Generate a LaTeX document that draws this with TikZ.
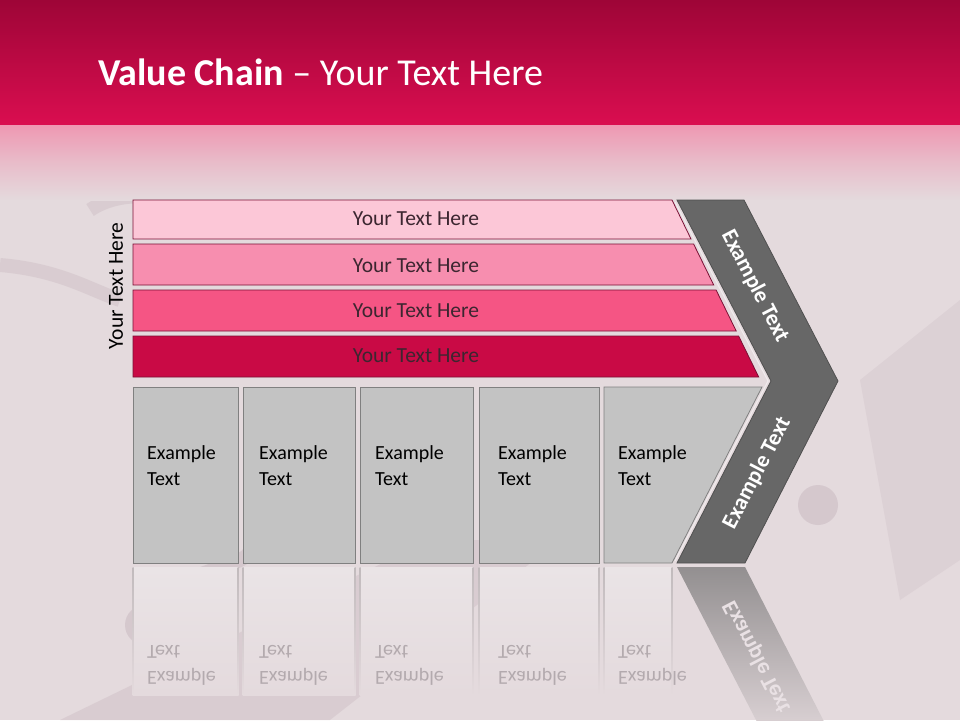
\documentclass[tikz,border=0pt]{standalone}
\usepackage{fontspec}
\setmainfont{Carlito}
\usetikzlibrary{calc}
\definecolor{hdtop}{HTML}{9E0537}
\definecolor{hdbot}{HTML}{DA0E50}
\definecolor{fadepink}{HTML}{EE98B2}
\definecolor{bg}{HTML}{E4DADD}
\definecolor{bgdark}{HTML}{D2C4CA}
\definecolor{barA}{HTML}{FCC7D7}
\definecolor{barB}{HTML}{F78EAF}
\definecolor{barC}{HTML}{F55584}
\definecolor{barD}{HTML}{C90A45}
\definecolor{barline}{HTML}{7A1035}
\definecolor{bartext}{HTML}{3C2630}
\definecolor{chev}{HTML}{676767}
\definecolor{chevline}{HTML}{505050}
\definecolor{boxfill}{HTML}{C3C3C3}
\definecolor{boxline}{HTML}{808080}
\definecolor{refltext}{HTML}{B3AAAE}
\definecolor{reflbox}{HTML}{EAE4E6}
\newcommand{\extxt}{\begin{tabular}{@{}l@{}}Example\\Text\end{tabular}}
\begin{document}
\begin{tikzpicture}[x=1pt,y=-1pt,
  barshape/.style={draw=barline, line width=0.8pt},
  bartxt/.style={text=bartext, font=\fontsize{21.5}{24}\selectfont, inner sep=0},
  boxshape/.style={fill=boxfill, draw=boxline, line width=0.8pt},
  boxtxt/.style={anchor=west, inner sep=0, font=\fontsize{20}{26}\selectfont},
  refltxt/.style={anchor=west, inner sep=0, text=refltext, font=\fontsize{20}{26}\selectfont},
  chevtxt/.style={text=white, font=\bfseries\fontsize{22.5}{24}\selectfont, inner sep=0}]
\useasboundingbox (0,0) rectangle (960,720);
% background
\fill[bg] (0,0) rectangle (960,720);
\fill[bgdark, opacity=0.6] (60,720) -- (430,540) -- (560,540) -- (330,720) -- cycle;
\fill[bgdark, opacity=0.4] (860,380) -- (960,300) -- (960,560) -- (900,600) -- cycle;
\fill[bgdark, opacity=0.8] (145,625) circle[radius=20];
\fill[bgdark, opacity=0.8] (818,505) circle[radius=20];
\draw[bgdark, line width=14pt, opacity=0.8] (160,600) .. controls (200,560) and (260,570) .. (250,540);
\draw[bgdark, line width=14pt, opacity=0.6] (90,210) .. controls (120,190) and (160,195) .. (190,205);
\draw[bgdark, line width=14pt, opacity=0.6] (0,265) .. controls (60,270) and (90,290) .. (120,300);
% header
\shade[top color=hdtop, bottom color=hdbot] (0,0) rectangle (960,125);
\shade[top color=fadepink, bottom color=bg, middle color=bg!55!fadepink] (0,125) rectangle (960,200);
\node[anchor=base west, text=white, inner sep=0, font=\fontsize{38}{42}\selectfont] (title) at (98,85) {\textbf{Value Chain} – Your Text Here};
% left label
\node[rotate=90, inner sep=0, font=\fontsize{21.5}{24}\selectfont] (side) at (116,286) {Your Text Here};
% bars
\fill[barA, barshape] (133,200) -- (672,200) -- (691,239) -- (133,239) -- cycle;
\fill[barB, barshape] (133,244) -- (693.6,244) -- (713.7,285) -- (133,285) -- cycle;
\fill[barC, barshape] (133,290) -- (716.1,290) -- (736.2,331) -- (133,331) -- cycle;
\fill[barD, barshape] (133,336) -- (738.6,336) -- (758.7,377) -- (133,377) -- cycle;
\node[bartxt] (t1) at (416,219) {Your Text Here};
\node[bartxt] (t2) at (416,266) {Your Text Here};
\node[bartxt] (t3) at (416,311) {Your Text Here};
\node[bartxt] (t4) at (416,356) {Your Text Here};
% chevron
\fill[chev, draw=chevline, line width=0.8pt] (677,200) -- (744,200) -- (838,381) -- (745,563) -- (677,563) -- (771,381) -- cycle;
\draw[white, opacity=0.5, line width=1pt] (675,202) -- (768,381) -- (675,561);
\node[chevtxt, rotate=-62.6] (c1) at (755,286) {Example Text};
\node[chevtxt, rotate=62.6] (c2) at (757,473) {Example Text};
% reflection of chevron arm
\shade[top color=chev!65!bg, bottom color=bg] (677,567) -- (745,567) -- (838,749) -- (771,749) -- cycle;
\node[text=bg!80!white, font=\bfseries\fontsize{22.5}{24}\selectfont, inner sep=0, rotate=-62.6] (c2r) at (757,657) {\scalebox{1}[-1]{Example Text}};
% boxes
\path[boxshape] (133,387) rectangle (238,563);
\path[boxshape] (243,387) rectangle (355,563);
\path[boxshape] (360,387) rectangle (473,563);
\path[boxshape] (479,387) rectangle (599,563);
\path[boxshape] (604,387) -- (762,387) -- (672,563) -- (604,563) -- cycle;
\node[boxtxt] (b1) at (147,466.8) {\extxt};
\node[boxtxt] (b2) at (259,466.8) {\extxt};
\node[boxtxt] (b3) at (375,466.8) {\extxt};
\node[boxtxt] (b4) at (498,466.8) {\extxt};
\node[boxtxt] (b5) at (618,466.8) {\extxt};
% reflections of boxes
\foreach \a/\b in {133/238, 243/355, 360/473, 479/599, 604/672} {
  \shade[top color=reflbox, bottom color=bg] (\a,567) rectangle (\b,695);
  \shade[top color=boxline!35!bg, bottom color=bg] (\a-0.5,567) rectangle (\a+0.5,695);
  \shade[top color=boxline!35!bg, bottom color=bg] (\b-0.5,567) rectangle (\b+0.5,695);
}
\node[refltxt] (r1) at (147,663.2) {\scalebox{1}[-1]{\extxt}};
\node[refltxt] (r2) at (259,663.2) {\scalebox{1}[-1]{\extxt}};
\node[refltxt] (r3) at (375,663.2) {\scalebox{1}[-1]{\extxt}};
\node[refltxt] (r4) at (498,663.2) {\scalebox{1}[-1]{\extxt}};
\node[refltxt] (r5) at (618,663.2) {\scalebox{1}[-1]{\extxt}};
\end{tikzpicture}
\end{document}
